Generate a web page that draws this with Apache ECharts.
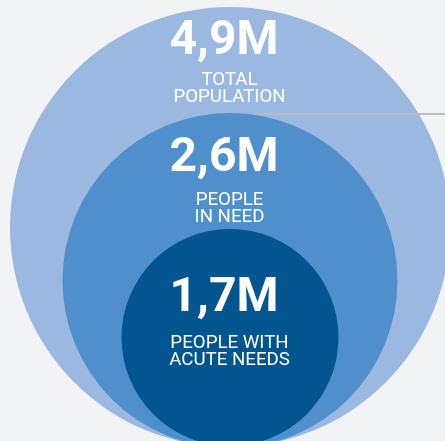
<!DOCTYPE html>
<html>
<head>
<meta charset="utf-8">
<script src="https://cdn.jsdelivr.net/npm/echarts@6/dist/echarts.min.js"></script>
<style>
html,body{margin:0;padding:0;background:#f2f3f5;}
#c{width:445px;height:441px;}
</style>
</head>
<body>
<div id="c"></div>
<script>
const categories = ["TOTAL\nPOPULATION", "PEOPLE\nIN NEED", "PEOPLE WITH\nACUTE NEEDS"];
const values = [4.9, 2.6, 1.7];
const valueLabels = ["4,9M", "2,6M", "1,7M"];

const colors = ["#9bb8e0", "#4f8fcc", "#03558f"];
const centers = [[230, 227], [230, 280.5], [230, 337.5]];
const radii = [220, 167.5, 108.5];
const numTops = [18, 135, 275];
const subTops = [71.5, 191.5, 334.5];

const chart = echarts.init(document.getElementById('c'), null, {renderer: 'canvas'});

const series = values.map((v, i) => ({
  type: 'pie',
  silent: true,
  animation: false,
  center: centers[i],
  radius: [0, radii[i]],
  startAngle: 90,
  z: i + 1,
  label: {show: false},
  labelLine: {show: false},
  itemStyle: {color: colors[i], borderWidth: 0},
  emphasis: {disabled: true},
  data: [{name: categories[i], value: v}]
}));

const graphics = [];
graphics.push({
  type: 'line',
  z: 100,
  shape: {x1: 254, y1: 114, x2: 445, y2: 114},
  style: {stroke: '#b8bcc2', lineWidth: 2}
});
values.forEach((v, i) => {
  graphics.push({
    type: 'text',
    z: 100,
    x: 224, y: numTops[i],
    style: {
      text: valueLabels[i],
      fill: '#ffffff',
      font: 'bold 48px Roboto',
      align: 'center',
      verticalAlign: 'top'
    }
  });
  graphics.push({
    type: 'text',
    z: 100,
    x: 229.5, y: subTops[i],
    style: {
      text: categories[i],
      fill: '#ffffff',
      font: '18.7px Roboto',
      lineHeight: 17.5,
      align: 'center',
      verticalAlign: 'top'
    }
  });
});

chart.setOption({
  backgroundColor: '#f2f3f5',
  animation: false,
  series: series,
  graphic: graphics
});
</script>
</body>
</html>
